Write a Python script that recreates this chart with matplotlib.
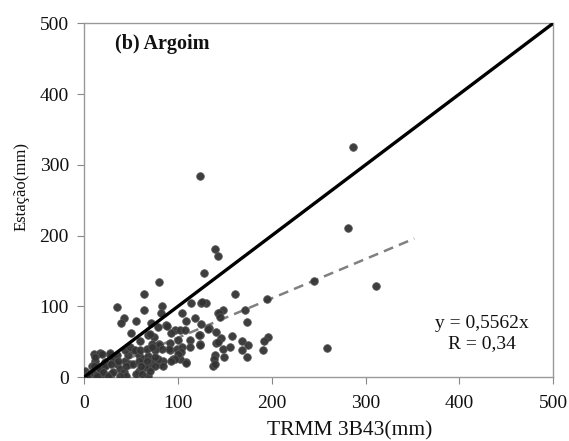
import matplotlib.pyplot as plt
import numpy as np

# Scatter values (TRMM 3B43 vs station, mm)
trmm = [287, 281, 123, 139, 143, 128, 80, 64, 245, 311, 161, 195, 259,
        35, 64, 83, 82, 42, 39, 55, 71,
        114, 125, 130, 104, 109, 118, 143, 126,
        148, 144, 145, 171, 174, 125, 133, 123, 158, 146, 141, 148, 156, 168, 175, 196, 192, 191, 168, 174, 149, 140, 138, 137, 123, 132,
        87, 79, 88, 97, 102, 107, 93, 50, 68, 74, 60, 80, 91, 100, 113, 122, 123, 80,
        91, 99, 104, 113, 109, 95, 102, 109, 103, 100, 97, 93, 90,
        83, 72, 75, 70, 72, 70, 81, 84, 79, 68, 141, 143, 139,
        1, 10, 17, 11, 8, 15, 22, 27, 31, 35, 38, 43, 47, 52, 58, 63, 49, 58, 42, 29, 19, 17, 24, 65, 68,
        11, 19, 27, 35, 43, 49, 54, 59, 67, 72,
        10, 22, 29, 36, 45, 52, 58, 61, 67, 75, 84, 75, 70, 31, 20, 10,
        5, 3, 14, 25, 45, 55, 62, 38]
estacao = [325, 211, 284, 181, 171, 147, 134, 118, 136, 129, 117, 110, 41,
           99, 95, 101, 90, 84, 77, 79, 76,
           104, 105, 105, 90, 79, 83, 90, 106,
           95, 90, 85, 95, 78, 75, 69, 60, 58, 55, 48, 39, 42, 51, 46, 57, 51, 38, 38, 28, 28, 31, 26, 16, 47, 68,
           73, 71, 72, 67, 67, 67, 62, 62, 59, 57, 51, 47, 48, 52, 53, 59, 46, 45,
           38, 40, 42, 42, 21, 26, 26, 20, 35, 32, 26, 23, 39,
           40, 47, 38, 61, 23, 14, 19, 23, 26, 2, 64, 49, 19,
           8, 33, 34, 23, 16, 14, 21, 31, 26, 19, 12, 23, 31, 38, 31, 26, 19, 9, 7, 5, 5, 12, 19, 14, 30,
           28, 33, 34, 31, 38, 42, 38, 38, 40, 42,
           16, 16, 19, 23, 16, 19, 23, 16, 23, 28, 16, 16, 9, 7, 7, 5,
           5, 2, 2, 2, 2, 5, 5, 2]

slope = 0.5562
fit_x = [0, 352]
one_to_one = [0, 500]
ticks = [0, 100, 200, 300, 400, 500]

plt.rcParams['font.family'] = ['Liberation Serif', 'DejaVu Serif']

fig = plt.figure(figsize=(5.69, 4.41), dpi=100)
ax = fig.add_axes([0.148, 0.145, 0.824, 0.802])

ax.scatter(trmm, estacao, s=30, color='#333333', edgecolors='#555555',
           linewidths=0.6, alpha=0.95, zorder=3)
# 1:1 line and fitted line through origin
ax.plot(one_to_one, one_to_one, color='black', lw=2.4, zorder=4)
ax.plot(fit_x, [slope * v for v in fit_x], color='#808080', lw=1.8,
        ls=(0, (4, 2.5)), zorder=2)

ax.set_xlim(0, 500)
ax.set_ylim(0, 500)
ax.set_xticks(ticks)
ax.set_yticks(ticks)
ax.tick_params(direction='out', length=5, color='#888888', labelsize=14,
               labelcolor='#111111', pad=6)
ax.tick_params(axis='x', pad=8)
for sp in ax.spines.values():
    sp.set_color('#999999')
    sp.set_linewidth(1.0)

ax.set_xlabel('TRMM 3B43(mm)', fontsize=15.5, color='#111111')
ax.xaxis.set_label_coords(0.566, -0.125)
ax.set_ylabel('Estação(mm)', fontsize=12, color='#111111')
ax.yaxis.set_label_coords(-0.116, 0.54)

ax.text(32.7, 471, '(b) Argoim', fontsize=14.5, fontweight='bold', va='center',
        color='#111111')
ax.text(424, 76, 'y = 0,5562x', fontsize=14, ha='center', va='center',
        color='#111111')
ax.text(424, 48, 'R = 0,34', fontsize=14, ha='center', va='center',
        color='#111111')

fig.savefig('out.png', dpi=100)
